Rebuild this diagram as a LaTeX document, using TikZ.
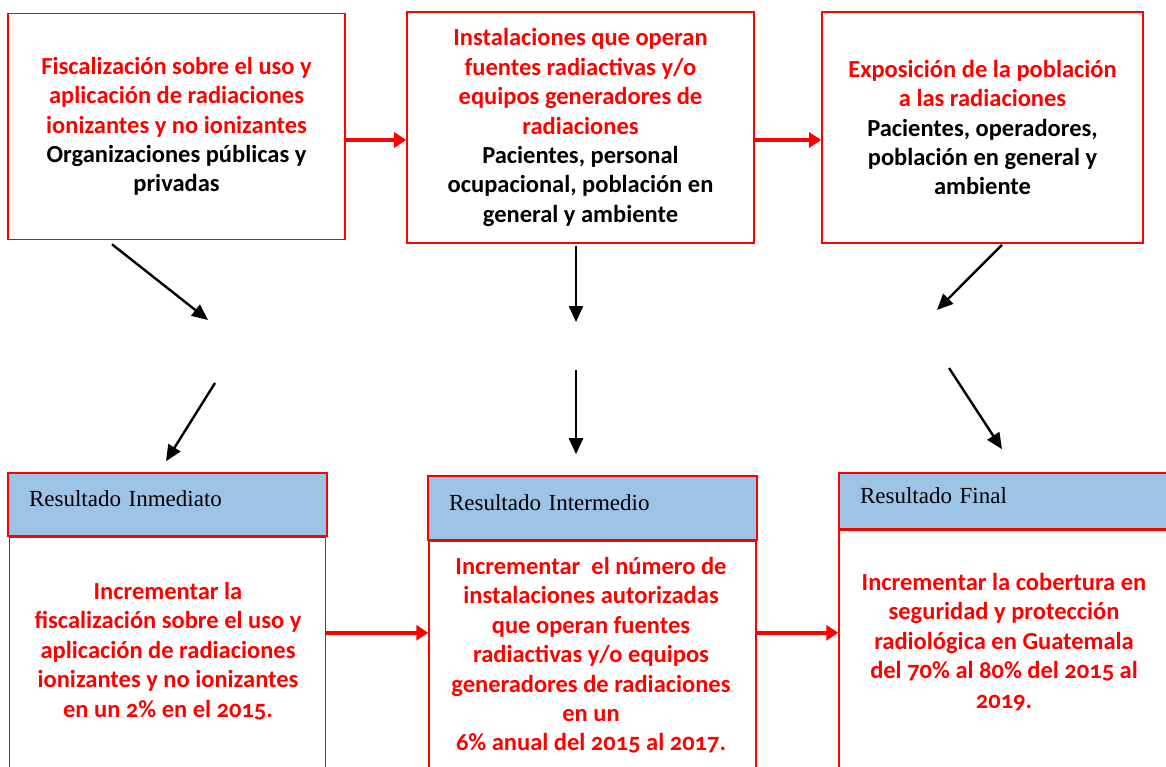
\documentclass[tikz,border=0pt]{standalone}
\usepackage{fontspec}
\setmainfont{Liberation Serif}
\newfontfamily\boxfont[Numbers=OldStyle]{Carlito}
\usetikzlibrary{arrows.meta,positioning}
\definecolor{hdrblue}{RGB}{157,195,230}
\newcommand{\blk}[1]{\textcolor{black}{#1}}

\begin{document}
\begin{tikzpicture}[x=1pt,y=-1pt,
  box/.style={draw=red,line width=1.6pt,align=center,text=red,
    font=\boxfont\bfseries\fontsize{24.5}{29.4}\selectfont},
  hdr/.style={draw=red,fill=hdrblue,line width=1.6pt,align=left,inner xsep=21pt,
    text depth=11pt,font=\fontsize{23}{25}\selectfont},
  body/.style={draw=red,line width=1.5pt,anchor=north,minimum height=300pt},
  goal/.style={align=center,text=red,font=\boxfont\bfseries\fontsize{24.5}{29.4}\selectfont},
  redarrow/.style={red,line width=4.5pt,-{Triangle[length=12pt,width=15pt]}},
  blackarrow/.style={line width=2.4pt,-{Triangle[length=16pt,width=14pt]}}]
\useasboundingbox (0,0) rectangle (1166,767);
\clip (0,0) rectangle (1166,767);
% upper row
\node[box,minimum width=337pt,minimum height=226pt] (fisc) at (176.5,126.5)
  {Fiscalización sobre el uso y\\aplicación de radiaciones\\ionizantes y no ionizantes\\
   \blk{Organizaciones públicas y}\\\blk{privadas}};
\node[box,minimum width=347pt,minimum height=231pt] (inst) at (580.5,127.5)
  {Instalaciones que operan\\fuentes radiactivas y/o\\equipos generadores de\\radiaciones\\
   \blk{Pacientes, personal}\\\blk{ocupacional, población en}\\\blk{general y ambiente}};
\node[box,minimum width=321pt,minimum height=231pt] (expo) at (982.5,127.5)
  {Exposición de la población\\a las radiaciones\\
   \blk{Pacientes, operadores,}\\\blk{población en general y}\\\blk{ambiente}};
\draw[redarrow] ([yshift=-13.5pt]fisc.east) -- ([yshift=-12.5pt]inst.west);
\draw[redarrow] ([yshift=-12.5pt]inst.east) -- ([yshift=-12.5pt]expo.west);
% lower row
\node[hdr,text width=277pt,minimum height=63pt] (inm) at (167.5,504.5) {Resultado Inmediato};
\node[hdr,text width=287pt,minimum height=64pt] (int) at (592.5,508) {Resultado Intermedio};
\node[hdr,text width=288pt,minimum height=56pt] (fin) at (1004,501) {Resultado Final};
\node[body,minimum width=316pt] (binm) at (inm.south) {};
\node[body,minimum width=327pt] (bint) at (int.south) {};
\node[body,minimum width=330pt] (bfin) at (fin.south) {};
\node[goal] (ginm) at (168,651)
  {Incrementar la\\fiscalización sobre el uso y\\aplicación de radiaciones\\ionizantes y no ionizantes\\en un 2\% en el 2015.};
\node[goal] (gint) at (591,655.5)
  {Incrementar \ el número de\\instalaciones autorizadas\\que operan fuentes\\radiactivas y/o equipos\\generadores de radiaciones\\en un\\6\% anual del 2015 al 2017.};
\node[goal] (gfin) at (1004,642)
  {Incrementar la cobertura en\\seguridad y protección\\radiológica en Guatemala\\del 70\% al 80\% del 2015 al\\2019.};
\draw[redarrow] ([yshift=-96pt]binm.north east) -- ([yshift=-92pt]bint.north west);
\draw[redarrow] ([yshift=-92pt]bint.north east) -- ([yshift=-103pt]bfin.north west);
% black arrows between the rows
\coordinate (l1) at (208,320);
\coordinate (l2) at (215,383);
\coordinate (m1) at (576,322);
\coordinate (m2) at (576,370);
\coordinate (r1) at (937,310);
\coordinate (r2) at (949,368);
\draw[blackarrow] ([shift={(-64.5pt,-4pt)}]fisc.south) -- (l1);
\draw[blackarrow] (l2) -- ([shift={(-1.5pt,11pt)}]inm.north);
\draw[blackarrow] ([shift={(-4.5pt,-2pt)}]inst.south) -- (m1);
\draw[blackarrow] (m2) -- ([shift={(-16.5pt,21pt)}]int.north);
\draw[blackarrow] ([shift={(19.5pt,-1pt)}]expo.south) -- (r1);
\draw[blackarrow] (r2) -- ([shift={(-2pt,23pt)}]fin.north);
\end{tikzpicture}
\end{document}
